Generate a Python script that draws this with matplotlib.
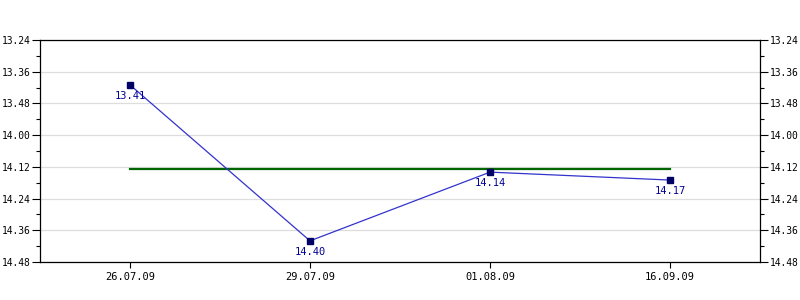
import matplotlib
matplotlib.use("Agg")
import matplotlib.pyplot as plt
from matplotlib.ticker import FixedLocator, FuncFormatter

# данные: время в формате мин.сек
dates = ["26.07.09", "29.07.09", "01.08.09", "16.09.09"]
times = ["13.41", "14.40", "14.14", "14.17"]
avg_time = "14.13"


def to_sec(s):
    m, sec = s.split(".")
    return int(m) * 60 + int(sec)


def fmt(v, pos=None):
    v = int(round(v))
    return f"{v // 60}.{v % 60:02d}"


secs = [to_sec(t) for t in times]
avg = to_sec(avg_time)
x = list(range(len(dates)))

fig = plt.figure(figsize=(8, 3), dpi=100)
ax = fig.add_axes([0.05, 0.1267, 0.90, 0.74])

font = "DejaVu Sans Mono"
fs = 6.9

ax.plot([x[0], x[-1]], [avg, avg], color="#006600", lw=1.6, zorder=2)
ax.plot(x, secs, color="#3333cc", lw=0.9, zorder=3)
ax.plot(x, secs, ls="none", marker="s", ms=4, color="#000066", zorder=4)

for xi, s, t in zip(x, secs, times):
    ax.annotate(t, (xi, s), xytext=(0, -4.5), textcoords="offset points",
                ha="center", va="top", fontsize=fs + 0.6, color="#000099",
                family=font)

ax.set_xlim(-0.5, len(dates) - 0.5)
ax.set_ylim(888, 804)

yt = list(range(804, 889, 12))
ax.yaxis.set_major_locator(FixedLocator(yt))
ax.yaxis.set_minor_locator(FixedLocator(list(range(810, 888, 12))))
ax.yaxis.set_major_formatter(FuncFormatter(fmt))
ax.grid(axis="y", color="#dddddd", lw=0.9, zorder=0)

ax.set_xticks(x)
ax.set_xticklabels(dates)

ax.tick_params(axis="y", which="both", left=True, right=True,
               labelleft=True, labelright=True, direction="out")
ax.tick_params(axis="y", which="major", length=6, width=0.8, pad=1)
ax.tick_params(axis="y", which="minor", length=3, width=0.8)
ax.tick_params(axis="x", length=4, width=0.8, pad=3)
for lab in ax.get_xticklabels():
    lab.set_fontsize(fs + 0.6)
    lab.set_family(font)
for t in ax.yaxis.get_major_ticks():
    for lab in (t.label1, t.label2):
        lab.set_fontsize(fs)
        lab.set_family(font)

for sp in ax.spines.values():
    sp.set_linewidth(0.9)

fig.savefig("out.png", dpi=100)
